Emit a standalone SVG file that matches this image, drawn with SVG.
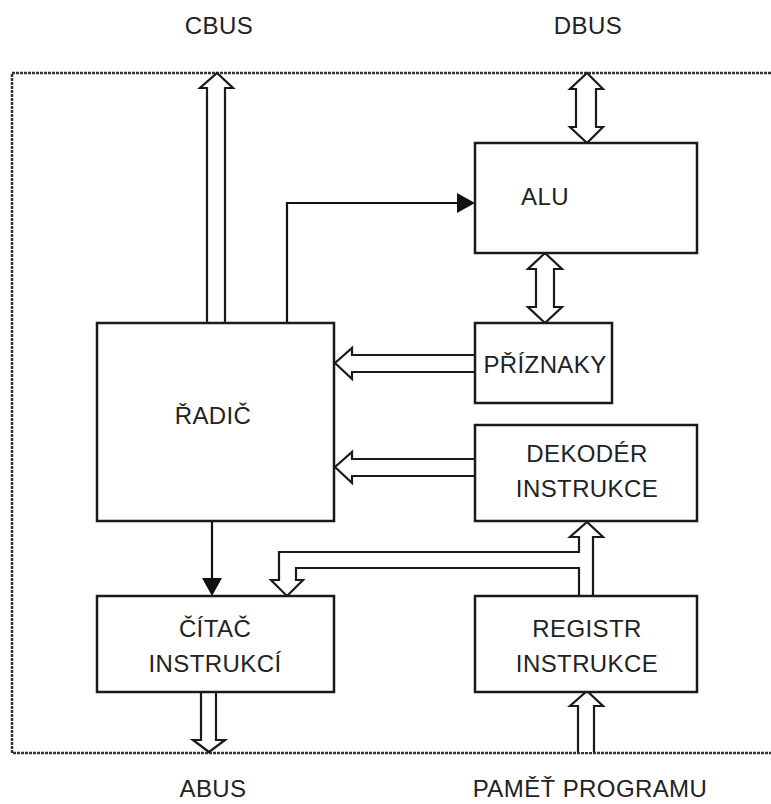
<svg xmlns="http://www.w3.org/2000/svg" width="771" height="804" viewBox="0 0 771 804">
<style>
.box{fill:#fff;stroke:#1a1a1a;stroke-width:2.5}
.hol{fill:#fff;stroke:#1a1a1a;stroke-width:2.2;stroke-linejoin:miter}
.ln{fill:none;stroke:#111;stroke-width:2.2}
.t{font-family:"Liberation Sans",Arial,sans-serif;font-size:24px;letter-spacing:0.4px;fill:#222;text-anchor:middle}
.border{fill:none;stroke:#333;stroke-width:2.5;stroke-dasharray:3 1}
</style>
<rect width="771" height="804" fill="#fff"/>
<path class="border" d="M775,73 H12 V753 H775"/>
<g id="connectors">
<path class="hol" d="M207,323 V88 H200 L217,73 L233,88 H225 V323"/>
<path class="hol" d="M576,89 H570 L587,73 L603,89 H596 V127 H603 L587,143 L570,127 H576 Z"/>
<path class="hol" d="M536,269 H528 L545,253 L562,269 H554 V307 H562 L545,323 L528,307 H536 Z"/>
<path class="hol" d="M475,355 H352 V348 L335,363 L352,379 V372 H475"/>
<path class="hol" d="M475,459 H352 V452 L335,467 L352,483 V476 H475"/>
<path class="hol" d="M579,596 V568 H296 V580 H303 L287,596 L271,580 H279 V552 H579 V537 H570 L587,522 L603,537 H593 V596"/>
<path class="hol" d="M201,693 V740 H193 L209,752 L225,740 H216 V693"/>
<path class="hol" d="M578,752 V706 H570 L587,691 L603,706 H594 V752"/>
<path class="ln" d="M287,323 V203 H457"/>
<path d="M457,193 L475,203 L457,213 Z" fill="#111"/>
<path class="ln" d="M212,521 V578"/>
<path d="M202,578 L212,596 L222,578 Z" fill="#111"/>
</g>
<g id="alu"><rect class="box" x="475" y="143" width="222" height="110"/><text class="t" x="545" y="205">ALU</text></g>
<g id="priznaky"><rect class="box" x="475" y="323" width="137" height="80"/><text class="t" x="545" y="373">PŘÍZNAKY</text></g>
<g id="radic"><rect class="box" x="97" y="323" width="237" height="198"/><text class="t" x="213" y="424">ŘADIČ</text></g>
<g id="dekoder"><rect class="box" x="475" y="425" width="222" height="96"/><text class="t" x="587" y="462">DEKODÉR</text><text class="t" x="587" y="497">INSTRUKCE</text></g>
<g id="citac"><rect class="box" x="97" y="596" width="237" height="96"/><text class="t" x="215" y="637">ČÍTAČ</text><text class="t" x="215" y="672">INSTRUKCÍ</text></g>
<g id="registr"><rect class="box" x="475" y="596" width="222" height="96"/><text class="t" x="587" y="637">REGISTR</text><text class="t" x="587" y="672">INSTRUKCE</text></g>
<g id="labels">
<text class="t" x="219" y="34">CBUS</text>
<text class="t" x="588" y="34">DBUS</text>
<text class="t" x="213" y="797">ABUS</text>
<text class="t" x="590" y="797">PAMĚŤ PROGRAMU</text>
</g>
</svg>
